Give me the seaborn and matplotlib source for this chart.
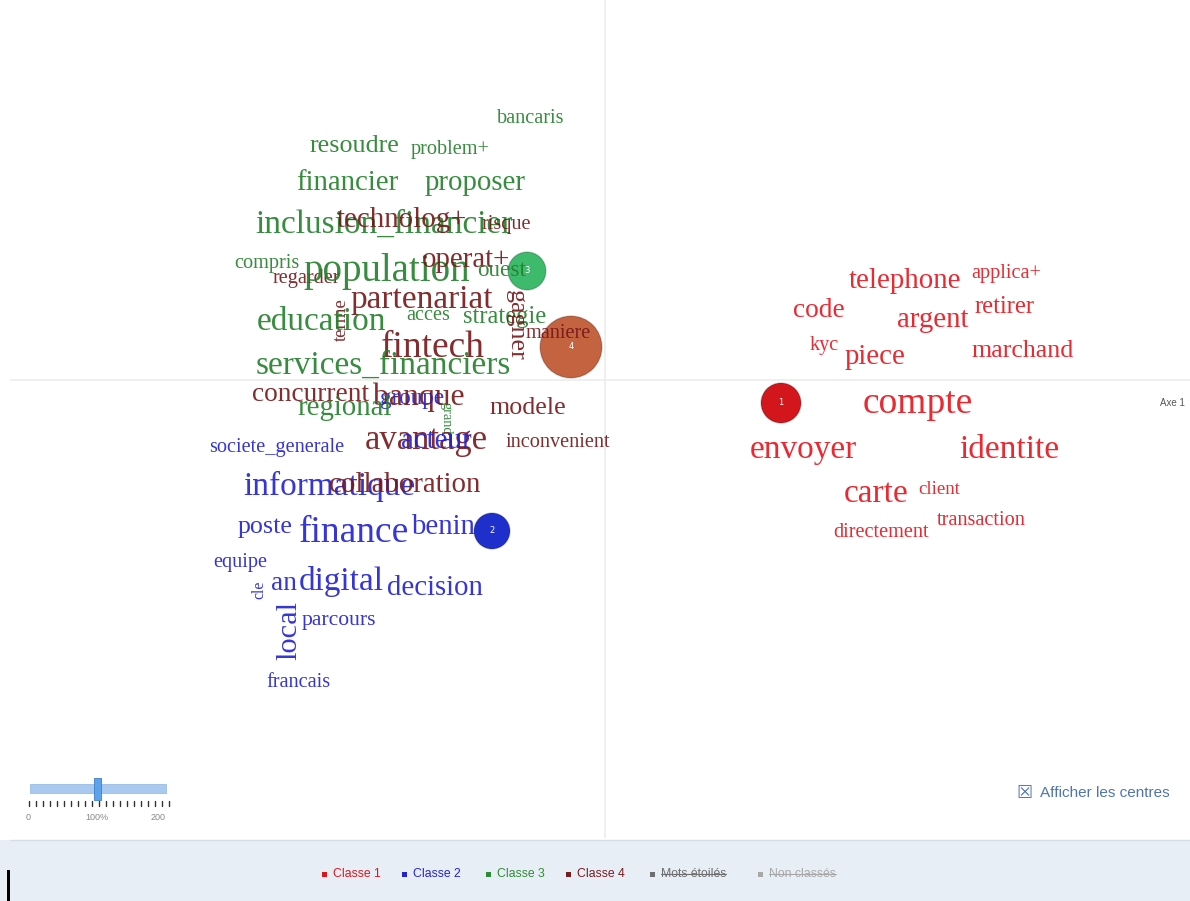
import numpy as np
import pandas as pd
import matplotlib.pyplot as plt
import seaborn as sb
from matplotlib.patches import Rectangle
from matplotlib.lines import Line2D

# words of the factor map (axe 1 / axe 2 coordinates), chi2-like weight, class
words = ["bancaris", "resoudre", "problem+", "financier", "proposer", "inclusion_financier",
         "technolog+", "risque", "compris", "regarder", "population", "operat+", "ouest",
         "partenariat", "terme", "education", "acces", "strategie", "gagner", "maniere",
         "fintech", "services_financiers", "concurrent", "banque", "groupe", "regional",
         "grand", "modele", "societe_generale", "avantage", "acteur", "inconvenient",
         "informatique", "collaboration", "poste", "finance", "benin", "equipe", "cle", "an",
         "digital", "decision", "local", "parcours", "francais",
         "telephone", "applica+", "code", "argent", "retirer", "kyc", "piece", "marchand",
         "compte", "envoyer", "identite", "carte", "client", "directement", "transaction"]
word_x = [-0.74, -2.51, -1.55, -2.58, -1.30, -2.21,
          -2.03, -0.99, -3.38, -2.99, -2.18, -1.39, -1.03,
          -1.83, -2.64, -2.84, -1.77, -1.00, -0.89, -0.47,
          -1.72, -2.22, -2.94, -1.86, -1.93, -2.60,
          -1.59, -0.77, -3.28, -1.79, -1.69, -0.47,
          -2.76, -2.00, -3.40, -2.51, -1.62, -3.65, -3.46, -3.21,
          -2.64, -1.70, -3.16, -2.66, -3.07,
          3.00, 4.01, 2.14, 3.28, 4.00, 2.19, 2.70, 4.18,
          3.13, 1.98, 4.04, 2.71, 3.34, 2.76, 3.76]
word_y = [2.61, 2.34, 2.30, 1.97, 1.97, 1.55,
          1.60, 1.55, 1.16, 1.01, 1.08, 1.20, 1.09,
          0.80, 0.60, 0.58, 0.64, 0.63, 0.55, 0.46,
          0.32, 0.14, -0.15, -0.17, -0.19, -0.28,
          -0.38, -0.28, -0.68, -0.61, -0.61, -0.63,
          -1.06, -1.05, -1.47, -1.53, -1.47, -1.83, -2.10, -2.04,
          -2.02, -2.08, -2.50, -2.41, -3.03,
          0.99, 1.06, 0.69, 0.60, 0.73, 0.34, 0.23, 0.29,
          -0.24, -0.70, -0.70, -1.14, -1.10, -1.53, -1.41]
word_weight = [14, 18, 14, 20, 20, 23,
               20, 14, 14, 14, 27, 20, 16,
               23, 13, 23, 14, 17, 18, 14,
               26, 23, 19, 22, 16, 20,
               10, 18, 14, 24, 20, 14,
               23, 20, 18, 26, 20, 14, 11, 19,
               23, 20, 21, 15, 14,
               20, 14, 19, 20, 17, 14, 20, 18,
               26, 23, 23, 23, 13, 14, 14]
word_class = [3, 3, 3, 3, 3, 3,
              4, 4, 3, 4, 3, 4, 3,
              4, 4, 3, 3, 3, 4, 4,
              4, 3, 4, 4, 2, 3,
              3, 4, 2, 4, 2, 4,
              2, 4, 2, 2, 2, 2, 2, 2,
              2, 2, 2, 2, 2,
              1, 1, 1, 1, 1, 1, 1, 1,
              1, 1, 1, 1, 1, 1, 1]
vertical_words = {"terme": 90, "gagner": 270, "grand": 270, "cle": 90, "local": 90}

# class centres
centre_class = [1, 2, 3, 4]
centre_x = [1.76, -1.13, -0.78, -0.34]
centre_y = [-0.23, -1.51, 1.09, 0.33]
centre_radius_px = [20, 18, 19, 31]

legend_labels = ["Classe 1", "Classe 2", "Classe 3", "Classe 4", "Mots étoilés", "Non classés"]

class_colors = {1: "#e8121b", 2: "#2020d4", 3: "#22802a", 4: "#761618"}
centre_colors = {1: "#d3161b", 2: "#1f2fcc", 3: "#3dba6c", 4: "#c3633f"}
legend_colors = ["#e0141c", "#2323d2", "#2e8c34", "#7a1c1e", "#6e6e6e", "#a8a8a8"]

W, H = 1190, 901
sb.set_style("white")
plt.rcParams["font.family"] = ["Liberation Serif", "DejaVu Serif"]

fig = plt.figure(figsize=(W / 100, H / 100), dpi=100)
ax = fig.add_axes([10 / W, 63 / H, 1180 / W, 838 / H])
ax.set_xlim(-5.95, 5.85)
ax.set_ylim(-4.58, 3.80)
ax.axis("off")

ax.axvline(0, color="#ececec", lw=1.2, zorder=0)
ax.axhline(0, color="#ececec", lw=1.2, zorder=0)

# centres
cdf = pd.DataFrame({"x": centre_x, "y": centre_y, "cls": centre_class,
                    "area": [(2 * r * 0.72) ** 2 for r in centre_radius_px]})
amin, amax = cdf["area"].min(), cdf["area"].max()
sb.scatterplot(data=cdf, x="x", y="y", hue="cls", palette=centre_colors,
               size="area", sizes=(amin, amax), size_norm=(amin, amax),
               edgecolor="#00000030", linewidth=1, legend=False, ax=ax, zorder=2)
for c, x, y in zip(centre_class, centre_x, centre_y):
    ax.text(x, y, str(c), color="white", fontsize=6, ha="center", va="center",
            family="DejaVu Sans", zorder=3)

# words
for w, x, y, s, c in zip(words, word_x, word_y, word_weight, word_class):
    ax.text(x, y, w, fontsize=s * 1.04, color=class_colors[c], ha="center", va="center",
            rotation=vertical_words.get(w, 0), alpha=0.9, zorder=4)

ax.text(5.55, -0.23, "Axe 1", fontsize=7, color="#555555", family="Liberation Sans",
        va="center", ha="left", clip_on=True)


def fx(px):
    return px / W


def fy(py):
    return 1 - py / H


# bottom legend band
fig.patches.append(Rectangle((0, 0), 1, fy(840), transform=fig.transFigure,
                             facecolor="#e7eef6", edgecolor="none"))
fig.add_artist(Line2D([fx(10), 1], [fy(840), fy(840)], color="#d5dde8", lw=1))
fig.patches.append(Rectangle((fx(7), 0), fx(3), fy(870), transform=fig.transFigure,
                             facecolor="black", edgecolor="none"))

legend_x = [322, 402, 486, 566, 650, 758]
fig.canvas.draw()
rend = fig.canvas.get_renderer()
for i, (lab, col, lx) in enumerate(zip(legend_labels, legend_colors, legend_x)):
    fig.patches.append(Rectangle((fx(lx), fy(877)), fx(5), 5 / H, transform=fig.transFigure,
                                 facecolor=col, edgecolor="none"))
    t = fig.text(fx(lx + 11), fy(874), lab, fontsize=8.8, color=col, va="center",
                 family="Liberation Sans")
    if i >= 4:
        bb = t.get_window_extent(rend)
        fig.add_artist(Line2D([bb.x0 / W, bb.x1 / W], [fy(874), fy(874)], color=col, lw=0.8))

# zoom slider
fig.patches.append(Rectangle((fx(30), fy(793)), fx(136), 9 / H, transform=fig.transFigure,
                             facecolor="#a9c9ee", edgecolor="#8fb5e2", lw=0.5))
fig.patches.append(Rectangle((fx(94), fy(800)), fx(7), 22 / H, transform=fig.transFigure,
                             facecolor="#5ea3ea", edgecolor="#3a7fcc", lw=0.6))
for px in np.arange(29, 172, 7):
    fig.add_artist(Line2D([fx(px), fx(px)], [fy(806), fy(801)], color="#333333", lw=1))
for lab, px in zip(["0", "100%", "200"], [28, 97, 158]):
    fig.text(fx(px), fy(818), lab, fontsize=6.5, color="#888888", ha="center", va="center",
             family="Liberation Sans")

fig.text(fx(1016), fy(793), "☒", fontsize=13, color="#4f74b0", va="center",
         family="DejaVu Sans")
fig.text(fx(1040), fy(793), "Afficher les centres", fontsize=11, color="#4f74b0",
         va="center", family="Liberation Sans")

fig.savefig("out.png", dpi=100)
